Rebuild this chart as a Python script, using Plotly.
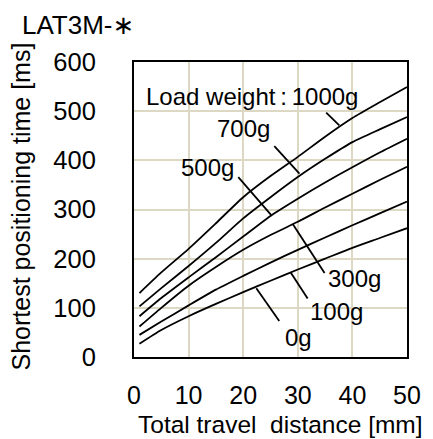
import plotly.graph_objects as go

# ---- data ----
distance_mm = [1, 5, 10, 15, 20, 25, 30, 35, 40, 45, 50]
time_0g = [27, 55, 83, 108, 132, 155, 178, 200, 222, 242, 262]
time_100g = [45, 72, 105, 137, 165, 192, 218, 243, 268, 292, 316]
time_300g = [62, 100, 145, 183, 218, 248, 275, 304, 332, 360, 387]
time_500g = [83, 120, 162, 203, 245, 287, 322, 355, 386, 416, 444]
time_700g = [103, 140, 185, 232, 282, 325, 366, 403, 437, 463, 488]
time_1000g = [130, 172, 220, 272, 325, 368, 407, 448, 486, 518, 549]

series = [time_0g, time_100g, time_300g, time_500g, time_700g, time_1000g]
x_ticks = [0, 10, 20, 30, 40, 50]
y_ticks = [0, 100, 200, 300, 400, 500, 600]

# label text, label position, leader line (from, to) in data units
labels = [
    ("Load weight\u2009:\u20091000g", 1.8, 530, "left", (35.2, 497), (37.6, 471)),
    ("700g", 20.0, 465, "center", (25.7, 429), (30.3, 373)),
    ("500g", 13.4, 386, "center", (19.1, 366), (25.1, 289)),
    ("300g", 40.4, 160, "center", (34.9, 171), (29.1, 270)),
    ("100g", 37.0, 93, "center", (31.8, 119), (28.7, 172)),
    ("0g", 30.2, 39, "center", (26.6, 73), (22.4, 140)),
]

FONT = "Arial, Liberation Sans, DejaVu Sans, sans-serif"
GRID = "rgb(221,216,196)"

fig = go.Figure()
for s in series:
    fig.add_trace(go.Scatter(x=distance_mm, y=s, mode="lines",
                             line=dict(color="black", width=1.8, shape="spline", smoothing=0.6),
                             hoverinfo="skip"))

for text, lx, ly, anchor, p0, p1 in labels:
    fig.add_shape(type="line", xref="x", yref="y", x0=p0[0], y0=p0[1], x1=p1[0], y1=p1[1],
                  line=dict(color="black", width=1.8))
    fig.add_annotation(x=lx, y=ly, xref="x", yref="y", text=text, showarrow=False,
                       xanchor=anchor, yanchor="middle",
                       font=dict(size=24, color="black", family=FONT),
                       bgcolor="rgba(0,0,0,0)")

# axis titles and header
fig.add_annotation(x=0.535, y=-0.2305, xref="paper", yref="paper",
                   text="Total travel\u00a0 distance [mm]", showarrow=False,
                   xanchor="center", yanchor="middle",
                   font=dict(size=24.5, color="black", family=FONT))
fig.add_annotation(x=-0.414, y=0.51, xref="paper", yref="paper",
                   text="Shortest positioning time [ms]", showarrow=False,
                   textangle=-90, xanchor="center", yanchor="middle",
                   font=dict(size=25, color="black", family=FONT))
fig.add_annotation(x=-0.4176, y=1.125, xref="paper", yref="paper",
                   text="LAT3M-∗", showarrow=False,
                   xanchor="left", yanchor="middle",
                   font=dict(size=26, color="black", family=FONT))

fig.update_xaxes(range=[0, 50], tickvals=x_ticks, showgrid=True, gridcolor=GRID, gridwidth=2,
                 showline=True, linecolor="black", linewidth=2, mirror=True, zeroline=False,
                 ticks="", ticklabelstandoff=15, tickfont=dict(size=25, color="black", family=FONT))
fig.update_yaxes(range=[0, 600], tickvals=y_ticks, showgrid=True, gridcolor=GRID, gridwidth=2,
                 showline=True, linecolor="black", linewidth=2, mirror=True, zeroline=False,
                 ticks="", ticklabelstandoff=31, tickfont=dict(size=25.5, color="black", family=FONT))

fig.update_layout(width=433, height=439, margin=dict(l=134, r=26, t=62, b=82, autoexpand=False),
                  plot_bgcolor="white", paper_bgcolor="white", showlegend=False,
                  font=dict(family=FONT, color="black"))

fig.write_html("out.html", config={"displayModeBar": False},
               post_script="document.body.style.margin='0';document.body.style.overflow='hidden';")
